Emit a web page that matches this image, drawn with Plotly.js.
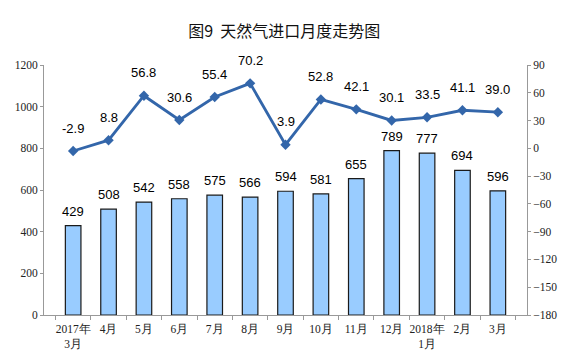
<!DOCTYPE html>
<html><head><meta charset="utf-8">
<script src="https://cdn.plot.ly/plotly-3.0.1.min.js"></script>
<style>html,body{margin:0;padding:0;background:#fff}#c{width:565px;height:354px}</style>
</head><body><div id="c"></div>
<script>
const categories = ["2017年<br>3月","4月","5月","6月","7月","8月","9月","10月","11月","12月","2018年<br>1月","2月","3月"];
const importVolume = [429,508,542,558,575,566,594,581,655,789,777,694,596];
const growthRate = [-2.9,8.8,56.8,30.6,55.4,70.2,3.9,52.8,42.1,30.1,33.5,41.1,39.0];
const leftTicks = [0,200,400,600,800,1000,1200];
const rightTicks = [-180,-150,-120,-90,-60,-30,0,30,60,90];

const labelFont = {family:'Liberation Sans, Arial, sans-serif', size:13, color:'#000'};
const bars = {
  type:'bar', x:categories, y:importVolume, width:0.44,
  marker:{color:'#99CCFF', line:{color:'#1a1a1a', width:1.2}},
  hoverinfo:'none'
};
const line = {
  type:'scatter', mode:'lines+markers', x:categories, y:growthRate, yaxis:'y2',
  line:{color:'#3366AA', width:2.8},
  marker:{symbol:'diamond', size:8, color:'#3366AA'},
  cliponaxis:false, hoverinfo:'none'
};
const annotations = [];
categories.forEach((c,i)=>{
  annotations.push({x:c, y:importVolume[i], xref:'x', yref:'y', text:String(importVolume[i]),
    showarrow:false, yanchor:'bottom', yshift:5, font:labelFont});
  annotations.push({x:c, y:growthRate[i], xref:'x', yref:'y2', text:growthRate[i].toFixed(1),
    showarrow:false, yanchor:'middle', yshift:23, font:labelFont});
});
const tickFont = {family:'Liberation Serif, Times New Roman, serif', size:11.5, color:'#222'};
const layout = {
  width:565, height:354,
  margin:{l:44, r:38, t:65, b:39},
  paper_bgcolor:'#fff', plot_bgcolor:'#fff',
  showlegend:false, annotations:annotations,
  title:{text:'图9  天然气进口月度走势图', x:0.503, xanchor:'center', y:0.91, yanchor:'middle',
    font:{family:'Noto Sans CJK SC, sans-serif', size:16, color:'#111'}},
  xaxis:{type:'category', showline:true, linecolor:'#999', linewidth:1, tickangle:0,
    ticks:'outside', tickson:'boundaries', ticklen:4, tickcolor:'#999', ticklabelstandoff:3,
    tickfont:tickFont, showgrid:false, zeroline:false},
  yaxis:{range:[0,1200], tickvals:leftTicks, showline:true, linecolor:'#999', linewidth:1,
    ticks:'outside', ticklen:3, tickcolor:'#999', tickfont:tickFont, showgrid:false, zeroline:false},
  yaxis2:{range:[-180,90], tickvals:rightTicks, overlaying:'y', side:'right', showline:true,
    linecolor:'#999', linewidth:1, ticks:'outside', ticklen:3, tickcolor:'#999',
    tickfont:tickFont, showgrid:false, zeroline:false}
};
Plotly.newPlot('c',[bars,line],layout,{staticPlot:true});
</script></body></html>
